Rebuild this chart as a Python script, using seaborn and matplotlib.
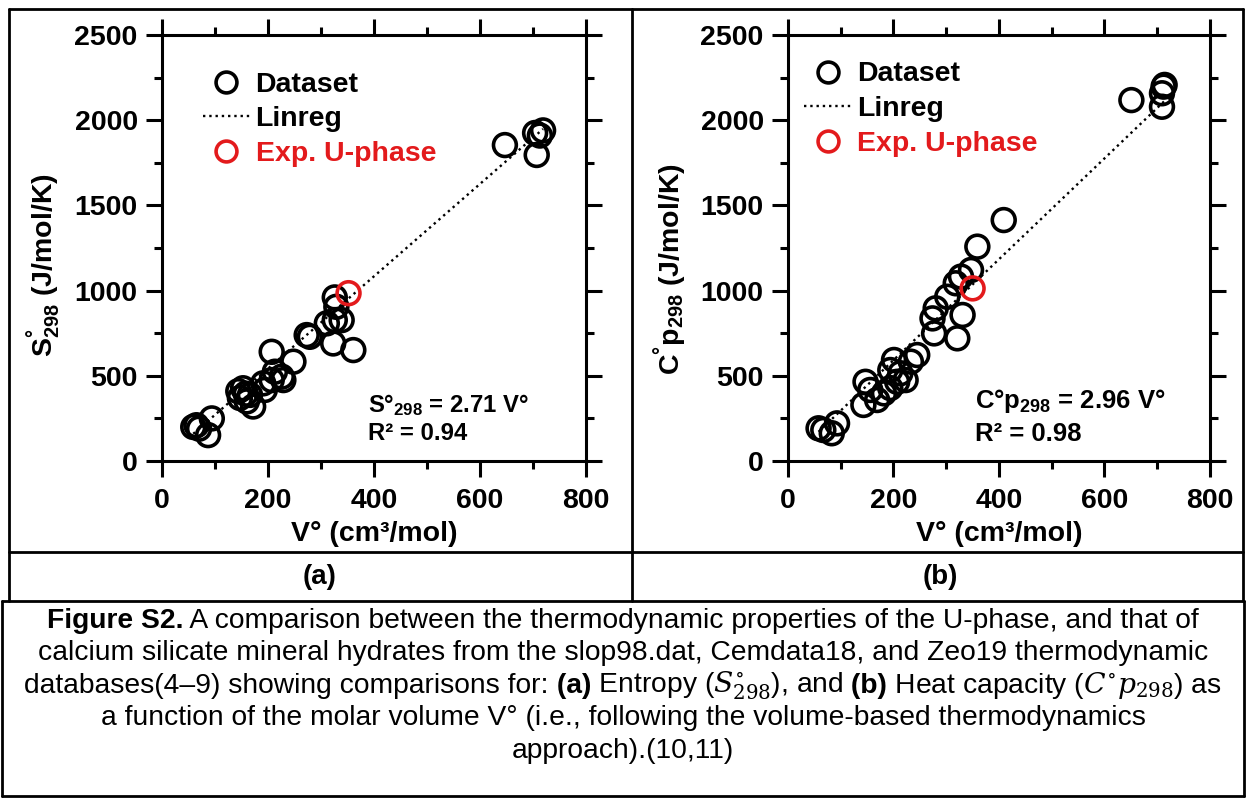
import numpy as np
import seaborn as sns
import matplotlib.pyplot as plt
from matplotlib.lines import Line2D
from matplotlib.ticker import MultipleLocator

# panel (a): molar volume vs entropy
vol_a = [59, 65, 70, 94, 87, 144, 147, 153, 160, 166, 172, 158,
         191, 194, 207, 207, 213, 226, 229, 248, 273, 279, 311, 323,
         326, 339, 329, 326, 361, 647, 704, 719, 707, 713]
s298 = [200, 210, 190, 250, 152, 410, 370, 427, 350, 388, 320, 395,
        456, 417, 475, 641, 524, 495, 475, 583, 739, 729, 808, 690,
        827, 827, 905, 960, 651, 1854, 1925, 1940, 1796, 1910]
uphase_a = (352, 985)
slope_a, r2_a = 2.71, 0.94

# panel (b): molar volume vs heat capacity
vol_b = [58, 67, 93, 83, 143, 147, 156, 169, 182, 194, 194, 201,
         207, 213, 223, 233, 245, 274, 277, 280, 302, 318, 321, 328,
         331, 347, 359, 409, 651, 709, 712, 714, 709]
cp298 = [192, 182, 221, 163, 329, 465, 417, 358, 397, 428, 534, 593,
         465, 515, 475, 583, 622, 837, 749, 896, 964, 1043, 720, 1082,
         857, 1121, 1258, 1414, 2118, 2158, 2197, 2207, 2079]
uphase_b = (350, 1013)
slope_b, r2_b = 2.96, 0.98

sns.set_theme(style="white")
plt.rcParams['font.family'] = ['Liberation Sans', 'DejaVu Sans']
plt.rcParams['text.color'] = 'black'
plt.rcParams['axes.labelcolor'] = 'black'
plt.rcParams['xtick.color'] = 'black'
plt.rcParams['ytick.color'] = 'black'
plt.rcParams['mathtext.fontset'] = 'custom'
plt.rcParams['mathtext.bf'] = 'Liberation Sans:bold'
plt.rcParams['mathtext.rm'] = 'DejaVu Serif'
plt.rcParams['mathtext.it'] = 'DejaVu Serif:italic'

fig = plt.figure(figsize=(12.46, 7.99), dpi=100)
ax_a = fig.add_axes([0.130, 0.4230, 0.3403, 0.5332])
ax_b = fig.add_axes([0.6324, 0.4230, 0.3387, 0.5332])

FS = 20.5
RED = '#e31a1c'
msize = 270
mlw = 2.6


def draw_panel(ax, vol, prop, exp, slope, r2, ylab, ylab_y, eqn, eq_fs, leg_anchor, eq_pos):
    sns.scatterplot(x=vol, y=prop, ax=ax, marker='o', s=msize,
                    facecolors='none', edgecolor='black', linewidth=mlw, zorder=3)
    xfit = np.array([min(vol), max(vol)])
    sns.lineplot(x=xfit, y=slope * xfit, ax=ax, color='black', linestyle=':',
                 linewidth=1.7, zorder=2)
    sns.scatterplot(x=[exp[0]], y=[exp[1]], ax=ax, marker='o', s=msize,
                    facecolors='none', edgecolor=RED, linewidth=mlw, zorder=4)
    ax.set_xlim(0, 800)
    ax.set_ylim(0, 2500)
    ax.xaxis.set_major_locator(MultipleLocator(200))
    ax.xaxis.set_minor_locator(MultipleLocator(100))
    ax.yaxis.set_major_locator(MultipleLocator(500))
    ax.yaxis.set_minor_locator(MultipleLocator(250))
    ax.tick_params(which='both', direction='out', top=True, right=True,
                   bottom=True, left=True, width=2.2, color='black')
    ax.tick_params(which='major', length=11.5, labelsize=FS, pad=6)
    ax.tick_params(axis='x', which='major', pad=8)
    ax.tick_params(which='minor', length=6)
    for lab in ax.get_xticklabels() + ax.get_yticklabels():
        lab.set_fontweight('bold')
    for sp in ax.spines.values():
        sp.set_linewidth(2.2)
        sp.set_color('black')
    ax.set_xlabel('V° (cm³/mol)', fontsize=FS, fontweight='bold', labelpad=5)
    ax.set_ylabel(ylab, fontsize=FS, fontweight='bold', labelpad=8, y=ylab_y)

    handles = [
        Line2D([], [], marker='o', linestyle='none', markersize=15,
               markerfacecolor='none', markeredgecolor='black', markeredgewidth=mlw),
        Line2D([], [], color='black', linestyle=':', linewidth=1.7),
        Line2D([], [], marker='o', linestyle='none', markersize=15,
               markerfacecolor='none', markeredgecolor=RED, markeredgewidth=mlw),
    ]
    leg = ax.legend(handles, ['Dataset', 'Linreg', 'Exp. U-phase'], loc='upper left',
                    bbox_to_anchor=leg_anchor, frameon=False, handlelength=1.65,
                    handletextpad=0.2, labelspacing=0.3, borderpad=0.4,
                    prop={'weight': 'bold', 'size': FS})
    leg.get_texts()[2].set_color(RED)

    ax.text(eq_pos[0], eq_pos[1], eqn, transform=ax.transAxes, fontsize=eq_fs,
            fontweight='bold', va='baseline')
    ax.text(eq_pos[0], eq_pos[2], 'R² = %.2f' % r2, transform=ax.transAxes,
            fontsize=eq_fs, fontweight='bold', va='baseline')


draw_panel(ax_a, vol_a, s298, uphase_a, slope_a, r2_a,
           r'$\mathbf{S^{°}_{298}}$ (J/mol/K)', 0.46,
           r'$\mathbf{S°_{298}}$ = %.2f V°' % slope_a, 17.2,
           (0.036, 0.974), (0.486, 0.115, 0.049))
draw_panel(ax_b, vol_b, cp298, uphase_b, slope_b, r2_b,
           r'$\mathbf{C^{°}p_{298}}$ (J/mol/K)', 0.45,
           r'$\mathbf{C°p_{298}}$ = %.2f V°' % slope_b, 18.5,
           (-0.022, 0.998), (0.443, 0.124, 0.047))


# table frame around the figure
def hline(y, x0, x1, lw=2.0):
    fig.add_artist(Line2D([x0 / 1246, x1 / 1246], [1 - y / 799, 1 - y / 799],
                          color='black', linewidth=lw))


def vline(x, y0, y1, lw=2.0):
    fig.add_artist(Line2D([x / 1246, x / 1246], [1 - y0 / 799, 1 - y1 / 799],
                          color='black', linewidth=lw))


hline(9, 9, 1243)
hline(552, 9, 1243)
hline(601, 2, 1244)
hline(796, 2, 1244)
vline(9, 9, 601)
vline(1243, 9, 601)
vline(632, 9, 601)
vline(2, 601, 796)
vline(1244, 601, 796)

cap_font = ['Liberation Sans', 'DejaVu Sans']
fig.text(320 / 1246, 1 - 577 / 799, '(a)', ha='center', va='center',
         fontsize=20, fontweight='bold', family=cap_font)
fig.text(940 / 1246, 1 - 577 / 799, '(b)', ha='center', va='center',
         fontsize=20, fontweight='bold', family=cap_font)

caption = [
    [('Figure S2.', 'bold'), (' A comparison between the thermodynamic properties of the U-phase, and that of', 'normal')],
    [('calcium silicate mineral hydrates from the slop98.dat, Cemdata18, and Zeo19 thermodynamic', 'normal')],
    [('databases(4–9) showing comparisons for:', 'normal'), (' (a)', 'bold'),
     (r' Entropy ($S^{\circ}_{\mathrm{298}}$), and', 'normal'), (' (b)', 'bold'),
     (r' Heat capacity ($C^{\circ}p_{\mathrm{298}}$) as', 'normal')],
    [('a function of the molar volume V° (i.e., following the volume-based thermodynamics', 'normal')],
    [('approach).(10,11)', 'normal')],
]
cap_y = [628, 660, 693, 725, 758]
cap_fs = 20.3
renderer = fig.canvas.get_renderer()
for pieces, ypix in zip(caption, cap_y):
    texts = []
    widths = []
    for s, w in pieces:
        t = fig.text(0, 1 - ypix / 799, s, fontsize=cap_fs, fontweight=w,
                     family=cap_font, va='baseline', ha='left')
        texts.append(t)
        widths.append(t.get_window_extent(renderer).width)
    x = 623 - sum(widths) / 2
    for t, wd in zip(texts, widths):
        t.set_x(x / 1246)
        x += wd

fig.savefig('out.png', dpi=100)
